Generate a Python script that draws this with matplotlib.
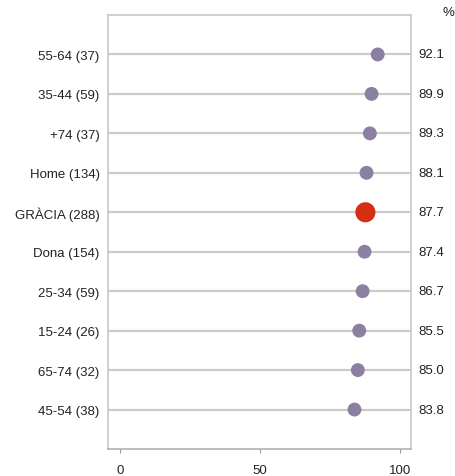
import matplotlib.pyplot as plt
import numpy as np

plt.rcParams['font.family'] = ['Liberation Sans', 'DejaVu Sans']

labels = ['55-64 (37)', '35-44 (59)', '+74 (37)', 'Home (134)', 'GRÀCIA (288)',
          'Dona (154)', '25-34 (59)', '15-24 (26)', '65-74 (32)', '45-54 (38)']
values = [92.1, 89.9, 89.3, 88.1, 87.7, 87.4, 86.7, 85.5, 85.0, 83.8]
highlight = 'GRÀCIA (288)'

purple = '#8b80a1'
red = '#d52f13'
line_gray = '#cbcbcb'
frame_gray = '#c8c8c8'

fig = plt.figure(figsize=(4.56, 4.77), dpi=100)
ax = fig.add_axes([108 / 456, 27 / 477, 303 / 456, 434 / 477])

y = np.arange(len(labels))
xmin, xmax = -4.3, 104
ax.hlines(y, xmin, xmax, color=line_gray, linewidth=1.6, zorder=1)

colors = [red if l == highlight else purple for l in labels]
sizes = [210 if l == highlight else 100 for l in labels]
ax.scatter(values, y, c=colors, s=sizes, zorder=3, linewidths=0)

ax.set_xlim(xmin, xmax)
ax.set_ylim(len(labels), -1)
ax.set_yticks(y)
ax.set_yticklabels(labels, fontsize=9.5, color='#222222')
ax.tick_params(axis='y', length=0, pad=6)
ax.set_xticks([0, 50, 100])
ax.tick_params(axis='x', length=3, color='#999999', labelsize=9.5,
               labelcolor='#222222', pad=8)

for spine in ax.spines.values():
    spine.set_color(frame_gray)
    spine.set_linewidth(1.2)
ax.spines['bottom'].set_color('#b0b0b0')

trans = ax.get_yaxis_transform()
for yi, v in zip(y, values):
    ax.text(1.023, yi, f'{v:.1f}', transform=trans, ha='left', va='center',
            fontsize=9.5, color='#222222')

fig.text(448 / 456, 1 - 13 / 477, '%', ha='center', va='center',
         fontsize=9.5, color='#222222')

fig.savefig('out.png', dpi=100)
